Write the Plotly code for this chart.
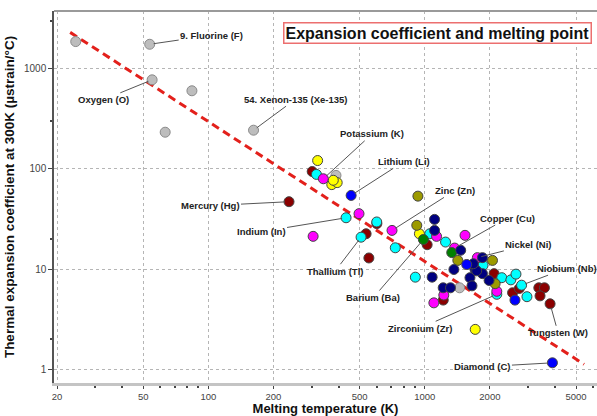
import math
import plotly.graph_objects as go

# ---------------- data (melting point K, expansion coefficient µstrain/°C) -------------
gas_melt = [24.4, 53.6, 55.0, 84.0, 63.2, 161.8, 389, 1449]
gas_exp = [1862, 1750, 773, 601, 232, 243, 86, 6.5]

maroon_melt = [236, 302, 601, 536, 552, 1026, 1218, 2091, 2546, 2734, 3366, 3573, 3410, 3795]
maroon_exp = [47, 94, 28.4, 22.5, 12.9, 17.5, 4.9, 9.0, 5.8, 6.4, 6.5, 6.5, 5.4, 4.5]

cyan_melt = [316, 433, 508, 600, 731, 905, 1055, 1248, 1860, 2270, 2500, 2640, 2803, 2967, 2153]
cyan_exp = [88, 32.5, 20.8, 29.5, 16.3, 8.3, 22.5, 18.6, 10.9, 8.2, 7.8, 8.9, 6.9, 5.3, 5.6]

magenta_melt = [340, 497, 305, 706, 1134, 1535, 1374, 1751, 2153, 1102, 1225]
magenta_exp = [79.6, 35.7, 21.2, 24.3, 21.2, 21.7, 16.2, 13.0, 6.0, 4.6, 5.5]

yellow_melt = [320, 372, 394, 378, 945, 1711]
yellow_exp = [121, 69.6, 72.9, 76.9, 22.5, 2.5]

olive_melt = [930, 919, 1422, 2056, 2115]
olive_exp = [53.4, 27.3, 12.2, 12.2, 7.15]

green_melt = [986, 1333]
green_exp = [19.7, 14.6]

navy_melt = [1110, 1110, 1466, 1364, 1707, 1618, 1653, 1848, 1848, 1983, 1738, 1082, 1217, 1315, 1678]
navy_exp = [31.3, 24.3, 15.4, 9.9, 9.9, 8.2, 6.8, 13.0, 9.0, 7.7, 9.6, 8.3, 6.5, 6.5, 11.3]

blue_melt = [457, 1563, 2612, 3890]
blue_exp = [54.3, 11.1, 4.9, 1.16]

trend_melt = [23, 5450]
trend_exp = [2300, 1.12]

x_ticks = [20, 50, 100, 200, 500, 1000, 2000, 5000]
x_minor = [30, 40, 60, 70, 80, 90, 300, 400, 600, 700, 800, 900, 3000, 4000, 6000]
y_ticks = [1, 10, 100, 1000]
y_minor = [2, 20, 300, 3000]

groups = {
    "gas": (gas_melt, gas_exp, "#bdbdbd", "#8a8a8a"),
    "maroon": (maroon_melt, maroon_exp, "#8b0000", "#444444"),
    "cyan": (cyan_melt, cyan_exp, "#00ffff", "#444444"),
    "magenta": (magenta_melt, magenta_exp, "#ff00ff", "#444444"),
    "yellow": (yellow_melt, yellow_exp, "#ffff00", "#444444"),
    "olive": (olive_melt, olive_exp, "#9c9a00", "#444444"),
    "green": (green_melt, green_exp, "#008000", "#444444"),
    "navy": (navy_melt, navy_exp, "#000080", "#444444"),
    "blue": (blue_melt, blue_exp, "#0000ff", "#444444"),
}

# label text, group, index in group, text offset (px)
labels = [
    ("9. Fluorine (F)", "gas", 1, 62, -9),
    ("Oxygen (O)", "gas", 2, -49, 20),
    ("54. Xenon-135 (Xe-135)", "gas", 5, 42, -31),
    ("Potassium (K)", "magenta", 0, 49, -45),
    ("Lithium (Li)", "blue", 0, 53, -34),
    ("Zinc (Zn)", "magenta", 3, 63, -40),
    ("Mercury (Hg)", "maroon", 0, -79, 4),
    ("Indium (In)", "cyan", 1, -85, 14),
    ("Thallium (Tl)", "cyan", 2, -26, 34),
    ("Barium (Ba)", "green", 0, -50, 58),
    ("Copper (Cu)", "magenta", 6, 53, -30),
    ("Nickel (Ni)", "magenta", 7, 51, -13),
    ("Niobium (Nb)", "cyan", 12, 45, -17),
    ("Zirconium (Zr)", "cyan", 14, -77, 34),
    ("Tungsten (W)", "maroon", 13, 8, 29),
    ("Diamond (C)", "blue", 3, -70, 4),
]

FONT = "Arial, 'Liberation Sans', sans-serif"

fig = go.Figure()

fig.add_trace(go.Scatter(
    x=trend_melt, y=trend_exp, mode="lines",
    line=dict(color="#e3201b", width=3, dash="8px,5px"),
    hoverinfo="skip", showlegend=False,
))

for name, (mx, ey, col, edge) in groups.items():
    fig.add_trace(go.Scatter(
        x=mx, y=ey, mode="markers", name=name, showlegend=False,
        marker=dict(size=10, color=col, line=dict(color=edge, width=1)),
    ))

annotations = []
for text, g, i, ax, ay in labels:
    mx, ey = groups[g][0], groups[g][1]
    annotations.append(dict(
        x=math.log10(mx[i]), y=math.log10(ey[i]), xref="x", yref="y",
        text=text, showarrow=True, arrowhead=0, arrowwidth=1, arrowcolor="#555555",
        ax=ax, ay=ay, standoff=4,
        font=dict(family=FONT, size=9.5, color="#222222", weight="bold"),
    ))

annotations.append(dict(
    x=0.707, y=0.941, xref="paper", yref="paper", xanchor="center", yanchor="middle",
    text="<b>Expansion coefficient and melting point</b>", showarrow=False,
    font=dict(family=FONT, size=16, color="#111111"),
    bgcolor="white", bordercolor="#ec6f6f", borderwidth=1.5, borderpad=1,
))

fig.update_layout(
    width=597, height=416,
    margin=dict(l=54, r=0, t=11, b=33),
    paper_bgcolor="white", plot_bgcolor="white",
    annotations=annotations,
    shapes=[dict(type="line", xref="paper", yref="paper", x0=0, x1=1, y0=1, y1=1,
                 line=dict(color="#9a9a9a", width=2))],
)

fig.update_xaxes(
    type="log", range=[1.287, 3.796],
    tickvals=x_ticks, ticktext=[str(v) for v in x_ticks],
    ticks="outside", ticklen=3, tickwidth=1, tickcolor="#444444",
    tickfont=dict(family=FONT, size=9.5, color="#444444"),
    showline=True, linecolor="#c4c4c4", linewidth=3,
    showgrid=True, gridcolor="#b5b5b5", griddash="dot", gridwidth=1,
    zeroline=False,
    minor=dict(tickvals=x_minor, ticks="outside", ticklen=2, tickwidth=1.5,
               tickcolor="#444444", showgrid=False),
    title=dict(text="<b>Melting temperature (K)</b>", standoff=3,
               font=dict(family=FONT, size=13, color="#111111")),
)

fig.update_yaxes(
    type="log", range=[-0.137, 3.575],
    tickvals=y_ticks, ticktext=[str(v) for v in y_ticks],
    ticks="outside", ticklen=4, tickwidth=1, tickcolor="#444444",
    tickfont=dict(family=FONT, size=10, color="#444444"),
    showline=True, linecolor="#555555", linewidth=1.5,
    showgrid=True, gridcolor="#b5b5b5", griddash="dot", gridwidth=1,
    zeroline=False,
    minor=dict(tickvals=y_minor, ticks="outside", ticklen=2, tickwidth=1.5,
               tickcolor="#444444", showgrid=False),
    title=dict(text="<b>Thermal expansion coefficient at 300K (µstrain/°C)</b>", standoff=6,
               font=dict(family=FONT, size=13.5, color="#111111")),
)

fig.write_html("out.html")
